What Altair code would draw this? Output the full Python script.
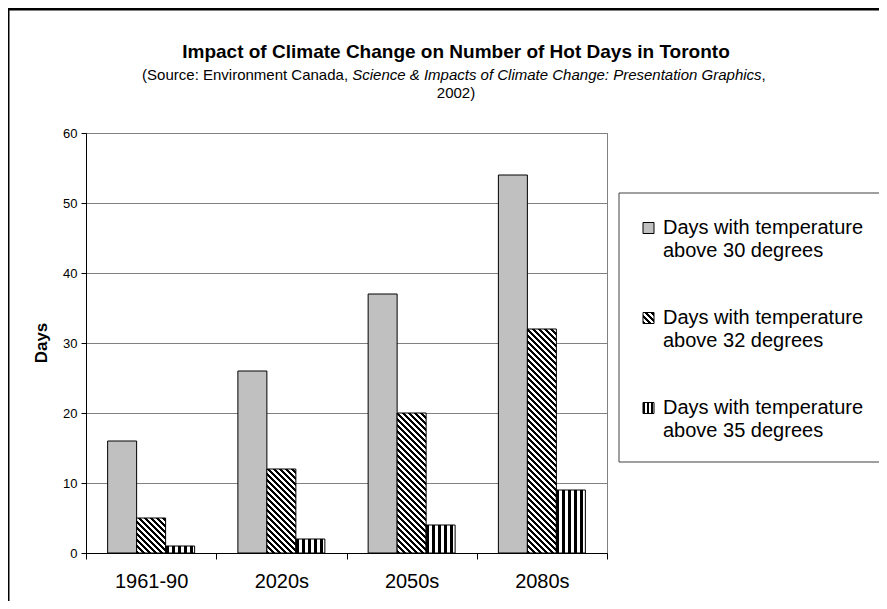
import math
import altair as alt
import pandas as pd

# ---------------- data ----------------
categories = ["1961-90", "2020s", "2050s", "2080s"]
series_keys = ["s30", "s32", "s35"]
legend_line1 = ["Days with temperature", "Days with temperature", "Days with temperature"]
legend_line2 = ["above 30 degrees", "above 32 degrees", "above 35 degrees"]
above30 = [16, 26, 37, 54]
above32 = [5, 12, 20, 32]
above35 = [1, 2, 4, 9]
y_ticks = [0, 10, 20, 30, 40, 50, 60]

title_text = "Impact of Climate Change on Number of Hot Days in Toronto"
sub_a = "(Source: Environment Canada, "
sub_b = "Science & Impacts of Climate Change: Presentation Graphics"
sub_c = " ,"
sub_line2 = "2002)"

# ---------------- layout ----------------
W, H = 521, 420
PAD = {"left": 78, "top": 125, "right": 871 - 78 - W, "bottom": 593 - 125 - H}
FONT = "Liberation Sans"
YMAX = 60
OFF_PAD = 0.7457
step = W / len(categories)
bar_w = step / (3 + 2 * OFF_PAD)

rows = []
for i, c in enumerate(categories):
    rows.append({"period": c, "series": "s30", "days": above30[i]})
    rows.append({"period": c, "series": "s32", "days": above32[i]})
    rows.append({"period": c, "series": "s35", "days": above35[i]})
df = pd.DataFrame(rows)

# Helvetica / Arial advance widths (1/1000 em)
HW = {' ': 278, '(': 333, ')': 333, ':': 278, ',': 278, '&': 667, '-': 333, '.': 278}
for ch in '0123456789':
    HW[ch] = 556
HW.update(dict(A=667, B=667, C=722, D=722, E=667, F=611, G=778, H=722, I=278, J=500, K=667,
               L=556, M=833, N=722, O=778, P=667, Q=778, R=722, S=667, T=611, U=722, V=667,
               W=944, X=667, Y=667, Z=611))
HW.update(dict(a=556, b=556, c=500, d=556, e=556, f=278, g=556, h=556, i=222, j=222, k=500,
               l=222, m=833, n=556, o=556, p=556, q=556, r=333, s=500, t=278, u=556, v=500,
               w=722, x=500, y=500, z=500))


def text_w(s, size):
    return sum(HW.get(ch, 556) for ch in s) * size / 1000.0


def stripe_stops(n, duty=0.5):
    stops = []
    k = 0
    while k < n:
        a = k / n
        b = min((k + duty) / n, 1.0)
        c = min((k + 1) / n, 1.0)
        stops.append({"offset": round(a, 5), "color": "black"})
        stops.append({"offset": round(b, 5), "color": "black"})
        if b < 1.0:
            stops.append({"offset": round(b, 5), "color": "white"})
            stops.append({"offset": round(c, 5), "color": "white"})
        k += 1
    return stops


def diag_gradient(w, h, period=6.0):
    kf = (w + h) / (w * w + h * h)
    n = (w + h) / period
    return {"gradient": "linear", "x1": 0, "y1": 1, "x2": kf * w, "y2": 1 - kf * h,
            "stops": stripe_stops(n)}


def vert_gradient(w, period=6.0):
    return {"gradient": "linear", "x1": 0, "y1": 0, "x2": 1, "y2": 0,
            "stops": stripe_stops(w / period)}


GRAY = "#C0C0C0"

x_enc = alt.X("period:N", sort=categories,
              scale=alt.Scale(domain=categories, paddingInner=0, paddingOuter=0),
              axis=alt.Axis(title=None, labelAngle=0, labelFontSize=20, labelFont=FONT,
                            labelColor="black", tickBand="extent", tickSize=6,
                            tickColor="black", domainColor="black", labelPadding=12,
                            grid=False))
xo_enc = alt.XOffset("series:N", sort=series_keys,
                     scale=alt.Scale(domain=series_keys, paddingInner=0, paddingOuter=OFF_PAD))
y_enc = alt.Y("days:Q", scale=alt.Scale(domain=[0, YMAX], nice=False),
              axis=alt.Axis(title=None, values=y_ticks, labelFontSize=13, labelFont=FONT,
                            labelColor="black", tickSize=5, tickColor="black",
                            domainColor="black", labelPadding=4, grid=True,
                            gridColor="#808080", gridWidth=1))

base = alt.Chart(df).encode(x=x_enc, xOffset=xo_enc, y=y_enc)

layers = []
layers.append(base.transform_filter(alt.datum.series == "s30")
              .mark_bar(fill=GRAY, stroke="black", strokeWidth=1))
for i, c in enumerate(categories):
    h = above32[i] * H / YMAX
    layers.append(base.transform_filter((alt.datum.series == "s32") & (alt.datum.period == c))
                  .mark_bar(fill=diag_gradient(bar_w, h), stroke="black", strokeWidth=1))
layers.append(base.transform_filter(alt.datum.series == "s35")
              .mark_bar(fill=vert_gradient(bar_w), stroke="black", strokeWidth=1))

one = alt.Data(values=[{"k": 0}])


def txt(s, x, y, size, weight="normal", style="normal", align="left", angle=0):
    return alt.Chart(one).mark_text(text=s, font=FONT, fontSize=size, fontWeight=weight,
                                    fontStyle=style, align=align, baseline="middle",
                                    angle=angle, color="black").encode(
        x=alt.value(x), y=alt.value(y))


# outer frame (left and top edges)
layers.append(alt.Chart(one).mark_rule(color="black", strokeWidth=3).encode(
    x=alt.value(-PAD["left"]), x2=alt.value(W + PAD["right"]), y=alt.value(-PAD["top"] + 1)))
layers.append(alt.Chart(one).mark_rule(color="black", strokeWidth=3).encode(
    x=alt.value(-PAD["left"] + 0), y=alt.value(-PAD["top"]), y2=alt.value(H + PAD["bottom"])))

# titles
TCX = 456 - 8 - PAD["left"]
layers.append(txt(title_text, TCX, 52 - 8 - PAD["top"], 19, weight="bold", align="center"))
SUB = 15
wa, wb, wc = text_w(sub_a, SUB), text_w(sub_b, SUB), text_w(sub_c, SUB)
x0 = TCX - (wa + wb + wc) / 2
ys1 = 75 - 8 - PAD["top"]
layers.append(txt(sub_a, x0, ys1, SUB))
layers.append(txt(sub_b, x0 + wa, ys1, SUB, style="italic"))
layers.append(txt(sub_c, x0 + wa + wb, ys1, SUB))
layers.append(txt(sub_line2, TCX, 93 - 8 - PAD["top"], SUB, align="center"))

# y axis title
layers.append(txt("Days", -44, H / 2, 17, weight="bold", align="center", angle=270))

# legend box
LX0 = 619 - 8 - PAD["left"]
LY0 = 193 - 8 - PAD["top"]
LY1 = 462 - 8 - PAD["top"]
layers.append(alt.Chart(one).mark_rect(fill="white", stroke="#404040", strokeWidth=1).encode(
    x=alt.value(LX0), x2=alt.value(W + PAD["right"] + 20), y=alt.value(LY0), y2=alt.value(LY1)))

SW = 11
sw_fills = [GRAY, diag_gradient(SW, SW, 6.0), vert_gradient(SW, 4.0)]
for j in range(3):
    yc = 228 + 90 * j - 8 - PAD["top"]
    sx = 643 - 8 - PAD["left"]
    layers.append(alt.Chart(one).mark_rect(fill=sw_fills[j], stroke="black", strokeWidth=1).encode(
        x=alt.value(sx), x2=alt.value(sx + SW), y=alt.value(yc - SW / 2), y2=alt.value(yc + SW / 2)))
    tx = 663 - 8 - PAD["left"]
    layers.append(txt(legend_line1[j], tx, yc, 20))
    layers.append(txt(legend_line2[j], tx, yc + 23, 20))

chart = alt.layer(*layers).properties(
    width=W, height=H, padding=PAD, autosize=alt.AutoSizeParams(type="none"),
    background="white",
).configure_view(stroke="#808080", strokeWidth=1)

chart.save("out.html", embed_options={"renderer": "svg", "actions": False})
